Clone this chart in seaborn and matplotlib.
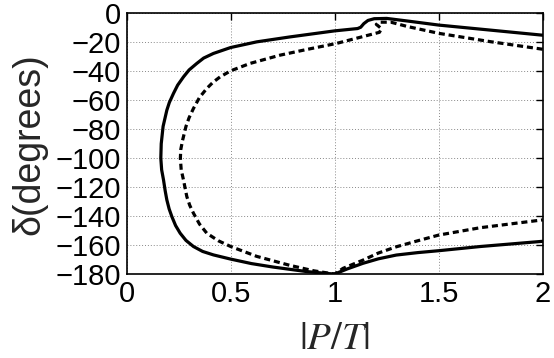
import matplotlib
matplotlib.use("Agg")
import matplotlib.pyplot as plt
import pandas as pd
import seaborn as sns

# solid curve, traced from top-right round the left side to bottom-right
x_solid = [2.0, 1.75, 1.5, 1.35, 1.25, 1.19, 1.16, 1.14, 1.125, 1.11, 1.0, 0.784,
           0.625, 0.5, 0.417, 0.37, 0.337, 0.3, 0.273, 0.245, 0.225, 0.205, 0.193,
           0.175, 0.166, 0.164, 0.168, 0.177, 0.185, 0.193, 0.204, 0.217, 0.235,
           0.257, 0.285, 0.321, 0.365, 0.417, 0.5, 0.6, 0.704, 0.864, 0.97, 1.0,
           1.06, 1.136, 1.21, 1.296, 1.4, 1.5, 1.7, 2.0]
y_solid = [-15, -11.5, -8, -5.2, -3.4, -3.6, -4.8, -7, -9.5, -10.4, -12, -16.2,
           -19.6, -23.5, -27.6, -30.8, -34.5, -39, -43.8, -49.5, -55.2, -61.5, -66.8,
           -78, -90, -100, -108, -115, -122.5, -128.8, -135, -140.3, -146.5,
           -151.8, -156.8, -161, -164.4, -166.8, -169.7, -172.8, -175.2, -178.3, -179.7, -180,
           -176.5, -172.6, -169.5, -166.9, -165.2, -163.9, -161, -157.4]

# dashed curve, same direction
x_dashed = [2.0, 1.75, 1.5, 1.35, 1.27, 1.22, 1.2, 1.225, 1.215, 1.18, 1.008, 0.864,
            0.737, 0.593, 0.5, 0.449, 0.415, 0.385, 0.35, 0.321, 0.3, 0.285, 0.268,
            0.26, 0.258, 0.262, 0.273, 0.289, 0.303, 0.321, 0.35, 0.385, 0.44,
            0.5, 0.625, 0.784, 0.9, 0.98, 1.0, 1.04, 1.136, 1.21, 1.296, 1.4,
            1.5, 1.7, 2.0]
y_dashed = [-24.7, -19.5, -13.7, -9, -6, -6, -7.5, -10.5, -13, -14.3, -20.7, -24.9,
            -28.8, -34.5, -39.6, -43.8, -47.5, -51.8, -58, -65.6, -72, -78, -88,
            -94, -100, -108, -115, -126.5, -132.5, -138, -145.5, -151.8, -157,
            -161, -167.8, -174, -177.8, -179.6, -180, -176.1, -170.4, -165.5, -161.2, -157,
            -153.1, -148, -142.6]


def main() -> None:
    sns.set_theme(style="whitegrid")
    plt.rcParams["font.family"] = ["Liberation Sans", "DejaVu Sans"]
    plt.rcParams["mathtext.fontset"] = "stix"

    solid_df = pd.DataFrame({"x": x_solid, "y": y_solid})
    dashed_df = pd.DataFrame({"x": x_dashed, "y": y_dashed})

    fig = plt.figure(figsize=(5.54, 3.58), dpi=100)
    ax = fig.add_axes([0.2287, 0.2346, 0.7509, 0.7277])
    ax.set_facecolor("white")

    sns.lineplot(data=solid_df, x="x", y="y", sort=False, estimator=None,
                 color="black", linewidth=2.3, ax=ax)
    sns.lineplot(data=dashed_df, x="x", y="y", sort=False, estimator=None,
                 color="black", linewidth=2.3, ax=ax)
    ax.lines[1].set_dashes([1.9, 1.2])

    ax.set_xlim(0, 2)
    ax.set_ylim(-180, 0)
    ax.set_xticks([0, 0.5, 1, 1.5, 2])
    ax.set_xticklabels(["0", "0.5", "1", "1.5", "2"])
    ax.set_yticks(range(-180, 1, 20))
    ax.grid(True, color="#888888", linestyle=(0, (1, 2)), linewidth=0.7)
    for spine in ax.spines.values():
        spine.set_color("black")
        spine.set_linewidth(1.2)
    ax.tick_params(direction="in", length=5, width=1, color="black",
                   labelsize=21, top=True, right=True, pad=4, labelcolor="black")

    ax.set_xlabel(r"$|P/T|$", fontsize=28, labelpad=10)
    ax.set_ylabel("δ(degrees)", fontsize=27, labelpad=6)

    fig.savefig("out.png", dpi=100)
    plt.close(fig)


if __name__ == "__main__":
    main()
